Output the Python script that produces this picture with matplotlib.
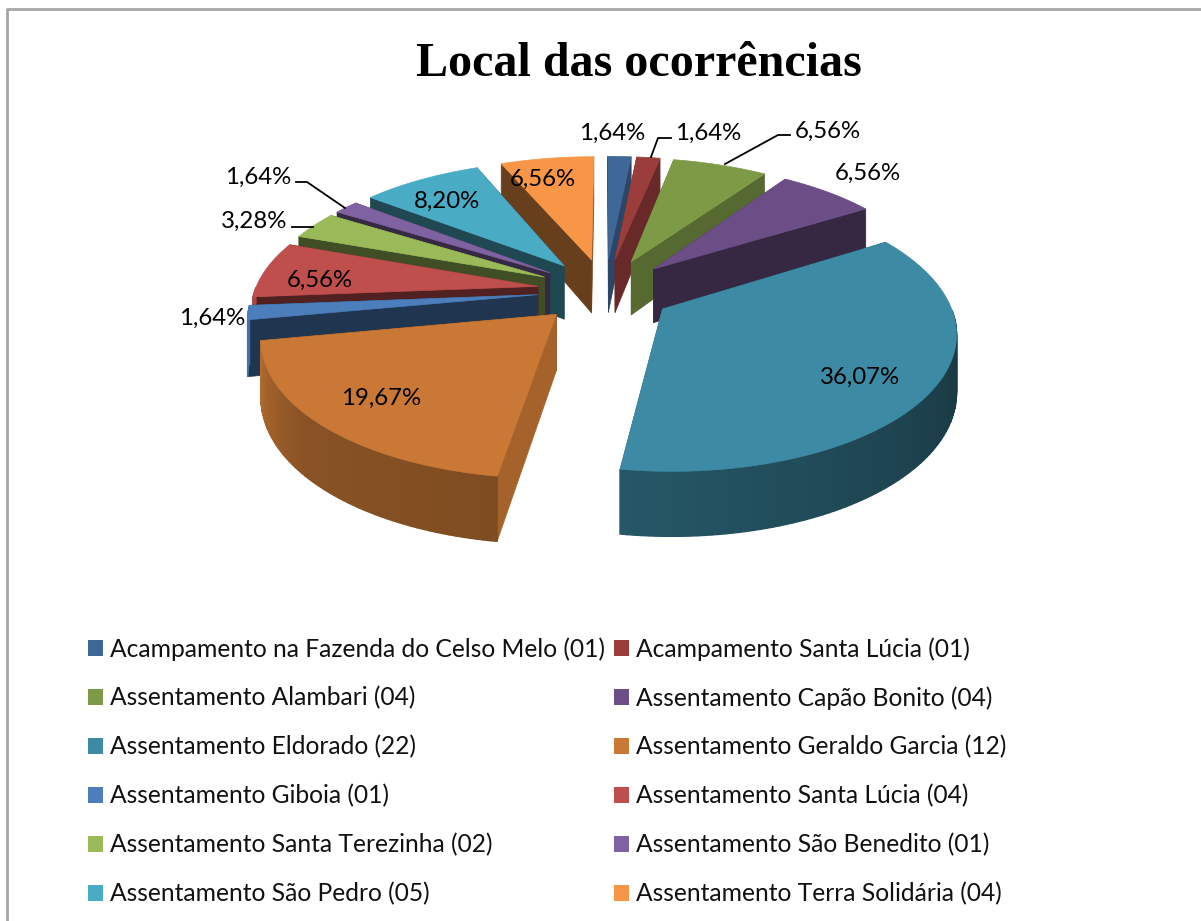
import numpy as np
import matplotlib
matplotlib.use('Agg')
import matplotlib.pyplot as plt
from matplotlib.patches import Patch, Polygon

names = ['Acampamento na Fazenda do Celso Melo', 'Acampamento Santa Lúcia',
         'Assentamento Alambari', 'Assentamento Capão Bonito',
         'Assentamento Eldorado', 'Assentamento Geraldo Garcia',
         'Assentamento Giboia', 'Assentamento Santa Lúcia',
         'Assentamento Santa Terezinha', 'Assentamento São Benedito',
         'Assentamento São Pedro', 'Assentamento Terra Solidária']
counts = [1, 1, 4, 4, 22, 12, 1, 4, 2, 1, 5, 4]

colors = ['#3F6797', '#9B3D3B', '#7D9B47', '#6A4E85', '#3C8AA3', '#C97935',
          '#4C7EBB', '#BE4F4C', '#9ABA59', '#7F62A1', '#4AABC5', '#F79646']

# label centres and leader lines, in pixels of the 1201x921 picture
label_pos = [(612, 133), (708, 133), (828, 131), (868, 173), (860, 377), (381, 398),
             (212, 318), (320, 280), (254, 221), (258, 177), (447, 201), (543, 179)]
leaders = [[(651, 157), (658, 138), (671, 138)],
           [(725, 164), (778, 135), (790, 135)],
           [(345, 208), (307, 182), (296, 182)],
           [(313, 227), (292, 227)]]

CX, CY = 605, 290.5
RX, RY = 283, 135
PERSP_X, PERSP_Y = 0.16, 0.16
DEPTH = 55
EXPLODE = 0.24
FONT = 'Lato'


def project(x, y, z=0):
    fx = 1 - PERSP_X * y
    fy = 1 - PERSP_Y * y
    return CX + RX * x * fx, CY - RY * y * fy + DEPTH * z * fy


def darker(col, k):
    rgb = np.array(matplotlib.colors.to_rgb(col))
    return tuple(rgb * k)


def rim_shade(th):
    # outer wall light, angle clockwise from the top
    return np.interp(th, [90, 189, 230, 262], [0.38, 0.63, 0.68, 0.9])


def edge_shade(th):
    # flat cut faces
    return np.interp(th, [0, 35, 60, 189, 260, 310, 336, 360],
                     [0.68, 0.68, 0.5, 0.82, 0.42, 0.42, 0.42, 0.5])


fig = plt.figure(figsize=(12.01, 9.21), dpi=100)
ax = fig.add_axes([0, 0, 1, 1])
ax.set_xlim(0, 1201)
ax.set_ylim(921, 0)
ax.axis('off')

# chart frame, only left and top are inside the crop
ax.plot([7, 7, 1201], [921, 9, 9], color='#a6a6a6', lw=2)

total = sum(counts)
edges = np.cumsum([0] + counts) / total * 360
mids = (edges[:-1] + edges[1:]) / 2
order = np.argsort(-np.cos(np.radians(mids)))

for zbase, i in enumerate(order):
    a0, a1 = edges[i], edges[i + 1]
    mid = np.radians(mids[i])
    ox, oy = EXPLODE * np.sin(mid), EXPLODE * np.cos(mid)
    ths = np.linspace(a0, a1, max(int((a1 - a0) / 1.2), 4))
    xs = ox + np.sin(np.radians(ths))
    ys = oy + np.cos(np.radians(ths))
    z = 10 + zbase * 10

    # cut faces, the one further back first
    cuts = [(a0, xs[0], ys[0]), (a1, xs[-1], ys[-1])]
    cuts.sort(key=lambda c: -(c[2] + oy))
    for k, (th, ex, ey) in enumerate(cuts):
        quad = [project(ox, oy), project(ex, ey), project(ex, ey, 1), project(ox, oy, 1)]
        col = darker(colors[i], edge_shade(th))
        ax.add_patch(Polygon(quad, closed=True, fc=col, ec=col, lw=0.5, zorder=z + k))

    # outer wall in small steps so the shading can change along it
    for j in range(len(ths) - 1):
        thm = (ths[j] + ths[j + 1]) / 2
        if np.cos(np.radians(thm)) > 0:
            continue
        quad = [project(xs[j], ys[j]), project(xs[j + 1], ys[j + 1]),
                project(xs[j + 1], ys[j + 1], 1), project(xs[j], ys[j], 1)]
        col = darker(colors[i], rim_shade(thm))
        ax.add_patch(Polygon(quad, closed=True, fc=col, ec=col, lw=1.0, zorder=z + 3))

    top = [project(ox, oy)] + [project(x, y) for x, y in zip(xs, ys)]
    ax.add_patch(Polygon(top, closed=True, fc=colors[i], ec=colors[i], lw=0.5, zorder=z + 5))

for c, (px, py) in zip(counts, label_pos):
    txt = ('%.2f%%' % (c / total * 100)).replace('.', ',')
    ax.text(px, py, txt, ha='center', va='center', fontsize=17.3, family=FONT,
            color='black', zorder=500)

for pts in leaders:
    ax.plot([p[0] for p in pts], [p[1] for p in pts], color='black', lw=1.3, zorder=400)

ax.text(639, 64, 'Local das ocorrências', ha='center', va='center', fontsize=34.6,
        fontweight='bold', family='Liberation Serif', color='black')

handles = [Patch(facecolor=c) for c in colors]
labels = ['%s (%02d)' % (n, c) for n, c in zip(names, counts)]
# legend fills by column, the original reads across
idx = list(range(0, 12, 2)) + list(range(1, 12, 2))
ax.legend([handles[i] for i in idx], [labels[i] for i in idx], ncol=2,
          loc='upper left', bbox_to_anchor=(88 / 1201, 1 - 637 / 921), frameon=False,
          prop={'family': FONT, 'size': 17.75}, labelspacing=1.04, handlelength=0.62,
          handleheight=0.62, handletextpad=0.27, columnspacing=0.36,
          borderpad=0, borderaxespad=0, labelcolor='#111111')

fig.savefig('out.png', dpi=100, facecolor='white')
